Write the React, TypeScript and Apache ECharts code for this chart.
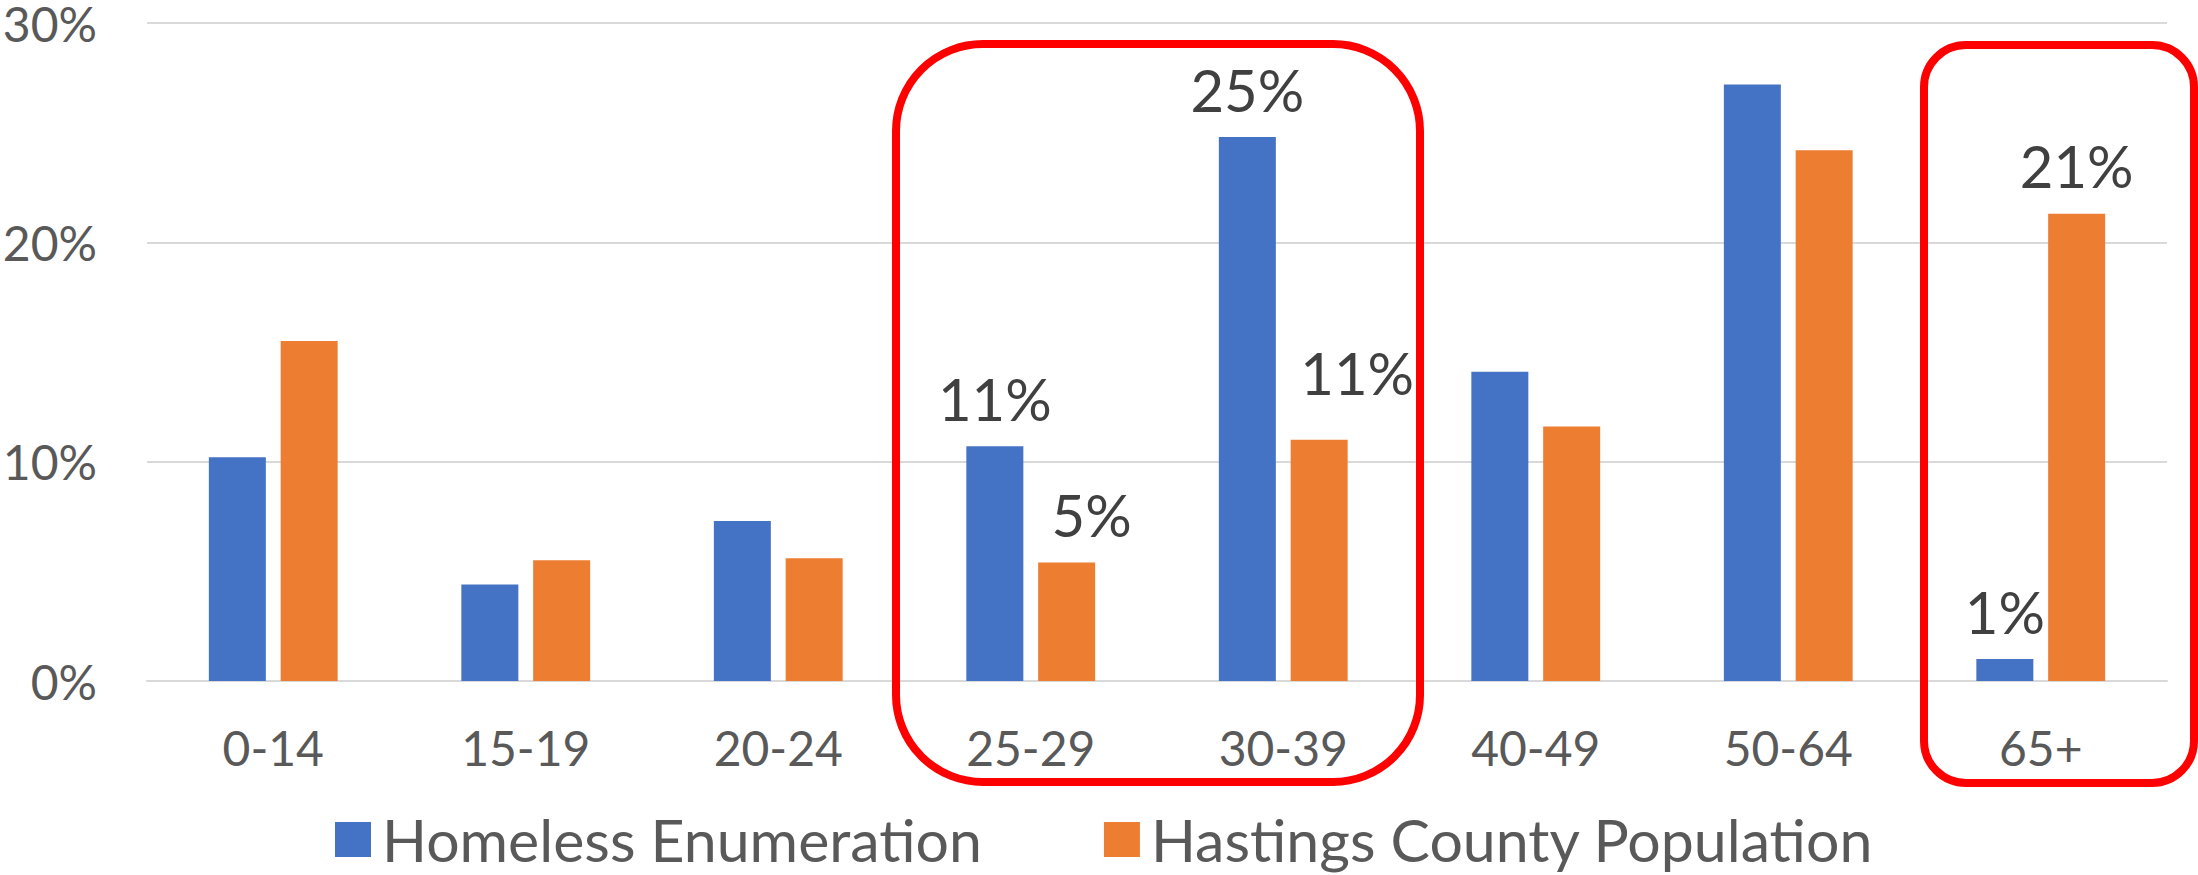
import React, { useEffect, useRef } from "react";
import * as echarts from "echarts";

const categories = ["0-14", "15-19", "20-24", "25-29", "30-39", "40-49", "50-64", "65+"];
const homeless = [10.2, 4.4, 7.3, 10.7, 24.8, 14.1, 27.2, 1.0];
const hastings = [15.5, 5.5, 5.6, 5.4, 11.0, 11.6, 24.2, 21.3];
const homelessLabels = ["", "", "", "11%", "25%", "", "", "1%"];
const hastingsLabels = ["", "", "", "5%", "11%", "", "", "21%"];
const hastingsLabelOffsets: Record<number, number[]> = { 3: [25, 0], 4: [38, -19] };
const yTicks = [0, 10, 20, 30];

const FONT = "Lato";

function buildData(values: number[], labels: string[], offsets: Record<number, number[]>) {
  return values.map((v, i) => {
    if (!labels[i]) return { value: v, label: { show: false } };
    return {
      value: v,
      label: {
        show: true,
        position: "top",
        distance: 23,
        formatter: labels[i],
        offset: offsets[i] || [0, 0],
        fontFamily: FONT,
        fontSize: 58,
        lineHeight: 50,
        color: "#404040",
      },
    };
  });
}

export default function App() {
  const ref = useRef<HTMLDivElement>(null);
  useEffect(() => {
    if (!ref.current) return;
    const chart = echarts.init(ref.current, null, { renderer: "svg" });
    chart.setOption({
      animation: false,
      backgroundColor: "#ffffff",
      textStyle: { fontFamily: FONT },
      grid: { left: 147, right: 31, top: 23, bottom: 194, outerBoundsMode: "none", containLabel: false },
      legend: {
        left: 330,
        top: 805,
        itemWidth: 36,
        itemHeight: 35,
        itemGap: 122,
        icon: "rect",
        textStyle: {
          fontFamily: FONT,
          fontSize: 59,
          lineHeight: 26,
          verticalAlign: "bottom",
          color: "#595959",
          padding: [0, 0, 0, 6],
        },
        data: ["Homeless Enumeration", "Hastings County Population"],
      },
      xAxis: {
        type: "category",
        data: categories,
        boundaryGap: true,
        axisLine: { show: true, lineStyle: { color: "#D9D9D9", width: 2 } },
        axisTick: { show: false },
        axisLabel: { fontFamily: FONT, fontSize: 48, color: "#595959", margin: 42, interval: 0 },
      },
      yAxis: {
        type: "value",
        min: yTicks[0],
        max: yTicks[yTicks.length - 1],
        interval: 10,
        axisLine: { show: false },
        axisTick: { show: false },
        splitLine: { show: true, lineStyle: { color: "#D9D9D9", width: 2 } },
        axisLabel: {
          fontFamily: FONT,
          fontSize: 48,
          lineHeight: 36,
          color: "#595959",
          margin: 50,
          formatter: "{value}%",
        },
      },
      series: [
        {
          name: "Homeless Enumeration",
          type: "bar",
          barWidth: 57,
          barGap: "26%",
          itemStyle: { color: "#4472C4" },
          data: buildData(homeless, homelessLabels, {}),
        },
        {
          name: "Hastings County Population",
          type: "bar",
          barWidth: 57,
          barGap: "26%",
          itemStyle: { color: "#ED7D31" },
          data: buildData(hastings, hastingsLabels, hastingsLabelOffsets),
        },
      ],
      graphic: [
        {
          type: "rect",
          z: 100,
          shape: { x: 896, y: 44, width: 524, height: 738, r: 87 },
          style: { fill: "none", stroke: "#FF0000", lineWidth: 8 },
        },
        {
          type: "rect",
          z: 100,
          shape: { x: 1924, y: 45, width: 270, height: 738, r: 42 },
          style: { fill: "none", stroke: "#FF0000", lineWidth: 8 },
        },
      ],
    });
    return () => chart.dispose();
  }, []);
  return (
    <div
      ref={ref}
      style={{ position: "absolute", left: 0, top: 0, width: 2198, height: 875 }}
    />
  );
}
